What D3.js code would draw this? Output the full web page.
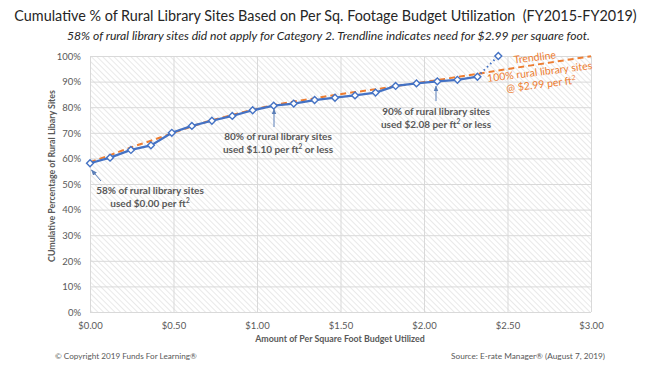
<!DOCTYPE html>
<html><head><meta charset="utf-8">
<script src="https://cdn.jsdelivr.net/npm/d3@7"></script>
<style>
html,body{margin:0;padding:0;background:#fff;}
svg{display:block;font-family:Lato, "Open Sans", sans-serif;}
</style></head>
<body><svg id="chart" width="653" height="374"></svg>
<script>
// ---- data ----
const budgetPerSqFt = [0, 0.12, 0.245, 0.365, 0.49, 0.61, 0.73, 0.852, 0.974, 1.10, 1.22, 1.345, 1.467, 1.587, 1.71, 1.83, 1.955, 2.08, 2.20, 2.32];
const cumulativePct = [58.1, 60.3, 63.3, 65.1, 70.0, 72.7, 74.7, 76.6, 78.8, 80.6, 81.4, 82.8, 83.7, 84.6, 85.7, 88.3, 89.3, 90.1, 90.7, 91.9];
const projectedPoint = [2.445, 100];
const trendX = [0, 0.12, 0.245, 0.365, 0.49, 0.61, 0.73, 0.852, 0.974, 1.10, 1.22, 1.345, 1.467, 1.587, 1.71, 1.83, 1.955, 2.08, 2.20, 2.32, 2.5, 2.75, 3.0];
const trendY = [58.5, 61.3, 64.3, 66.9, 69.8, 72.5, 74.9, 77.0, 79.0, 80.8, 82.2, 83.5, 84.8, 85.9, 87.0, 88.2, 89.4, 90.6, 91.8, 93.0, 94.9, 97.4, 99.9];
const xTicks = [0, 0.5, 1, 1.5, 2, 2.5, 3];
const yTicks = [0, 10, 20, 30, 40, 50, 60, 70, 80, 90, 100];
const annotations = [
  {x: 0, y: 58.1, lines: ["58% of rural library sites", "used $0.00 per ft²"]},
  {x: 1.10, y: 80.6, lines: ["80% of rural library sites", "used $1.10 per ft² or less"]},
  {x: 2.08, y: 90.1, lines: ["90% of rural library sites", "used $2.08 per ft² or less"]}
];

const BLUE = "#4472C4", ORANGE = "#ED7D31", GRAY = "#595959", GRID = "#d9d9d9";
const svg = d3.select("#chart");
const L = 90, R = 591, T = 56, B = 312;
const x = d3.scaleLinear().domain([0, 3]).range([L, R]);
const y = d3.scaleLinear().domain([0, 100]).range([B, T]);

function fit(sel, w) {
  const n = sel.node(); const fs = parseFloat(sel.attr("font-size"));
  const len = n.getComputedTextLength();
  sel.attr("font-size", (fs * w / len).toFixed(2));
}

// hatch pattern
const defs = svg.append("defs");
const pat = defs.append("pattern").attr("id", "hatch").attr("patternUnits", "userSpaceOnUse")
  .attr("width", 4).attr("height", 4).attr("patternTransform", "rotate(-45)");
pat.append("rect").attr("width", 4).attr("height", 4).attr("fill", "#fff");
pat.append("line").attr("x1", 0).attr("y1", 0).attr("x2", 0).attr("y2", 4).attr("stroke", "#e4e4e4").attr("stroke-width", 1.6);
const mk = defs.append("marker").attr("id", "arr").attr("viewBox", "0 0 10 10").attr("refX", 9).attr("refY", 5)
  .attr("markerWidth", 6).attr("markerHeight", 6).attr("orient", "auto-start-reverse");
mk.append("path").attr("d", "M0,1 L10,5 L0,9 z").attr("fill", "#5b7fb8");

svg.append("rect").attr("x", L).attr("y", T).attr("width", R - L).attr("height", B - T).attr("fill", "url(#hatch)");

// grid
svg.append("g").attr("transform", `translate(0,${B})`)
  .call(d3.axisBottom(x).tickValues(xTicks).tickSize(-(B - T)).tickFormat(d => "$" + d.toFixed(2)))
  .call(g => g.select(".domain").remove())
  .call(g => g.selectAll("line").attr("stroke", GRID))
  .call(g => g.selectAll("text").attr("fill", GRAY).attr("font-size", 9.5).attr("dy", "0").attr("y", 17).attr("font-family", "Lato"));
svg.append("g").attr("transform", `translate(${L},0)`)
  .call(d3.axisLeft(y).tickValues(yTicks).tickSize(-(R - L)).tickFormat(d => d + "%"))
  .call(g => g.select(".domain").remove())
  .call(g => g.selectAll("line").attr("stroke", GRID))
  .call(g => g.selectAll("text").attr("fill", GRAY).attr("font-size", 9.5).attr("x", -9).attr("dy", "0.35em").attr("font-family", "Lato"));

// trendline
const trend = trendX.map((v, i) => [v, trendY[i]]);
svg.append("path").datum(trend).attr("fill", "none").attr("stroke", ORANGE).attr("stroke-width", 2)
  .attr("stroke-dasharray", "6,4")
  .attr("d", d3.line().x(d => x(d[0])).y(d => y(d[1])).curve(d3.curveMonotoneX));

// data line
const pts = budgetPerSqFt.map((v, i) => [v, cumulativePct[i]]);
const last = pts[pts.length - 1];
svg.append("path").datum([last, projectedPoint]).attr("fill", "none").attr("stroke", BLUE).attr("stroke-width", 2)
  .attr("stroke-dasharray", "1.5,3").attr("d", d3.line().x(d => x(d[0])).y(d => y(d[1])));
svg.append("path").datum(pts).attr("fill", "none").attr("stroke", BLUE).attr("stroke-width", 2.25)
  .attr("d", d3.line().x(d => x(d[0])).y(d => y(d[1])));
const diamond = d3.symbol().type(d3.symbolDiamond2).size(30);
svg.append("g").selectAll("path").data(pts.concat([projectedPoint])).join("path")
  .attr("transform", d => `translate(${x(d[0])},${y(d[1])})`)
  .attr("d", diamond).attr("fill", "#fff").attr("stroke", BLUE).attr("stroke-width", 1.4);

// annotations
const annPos = [
  {ax1: 101, ay1: 181, ax2: 91.5, ay2: 170, tx: 150, ty: 194},
  {ax1: 274, ay1: 127, ax2: 274, ay2: 109, tx: 278, ty: 140},
  {ax1: 436, ay1: 101, ax2: 436, ay2: 86, tx: 436, ty: 115}
];
annotations.forEach((a, i) => {
  const p = annPos[i];
  svg.append("line").attr("x1", p.ax1).attr("y1", p.ay1).attr("x2", p.ax2).attr("y2", p.ay2)
    .attr("stroke", "#5b7fb8").attr("stroke-width", 1).attr("marker-end", "url(#arr)");
  a.lines.forEach((t, j) => {
    const txt = svg.append("text").attr("x", p.tx).attr("y", p.ty + j * 12.5).attr("text-anchor", "middle")
      .attr("fill", GRAY).attr("font-size", 10).attr("font-weight", "bold");
    if (t.includes("ft²")) {
      const parts = t.split("²");
      txt.append("tspan").text(parts[0]);
      txt.append("tspan").text("2").attr("font-size", 6.5).attr("dy", -4);
      txt.append("tspan").text(parts[1]).attr("dy", 4);
    } else txt.text(t);
  });
});

// trendline labels
const tl = svg.append("g").attr("transform", "translate(540,75.5) rotate(-7)");
tl.append("text").attr("x", -3).attr("y", -15).attr("text-anchor", "middle").attr("fill", ORANGE).attr("font-size", 10.5).text("Trendline");
tl.append("text").attr("x", 0).attr("y", 0).attr("text-anchor", "middle").attr("fill", ORANGE).attr("font-size", 10.5).text("100% rural library sites");
const t3 = tl.append("text").attr("x", 0).attr("y", 12.5).attr("text-anchor", "middle").attr("fill", ORANGE).attr("font-size", 10.5);
t3.append("tspan").text("@ $2.99 per ft");
t3.append("tspan").text("2").attr("font-size", 7).attr("dy", -4);

// titles
const title = svg.append("text").attr("x", 325.5).attr("y", 21).attr("text-anchor", "middle").attr("fill", "#262626")
  .attr("font-size", 16).text("Cumulative % of Rural Library Sites Based on Per Sq. Footage Budget Utilization\u00a0\u00a0(FY2015-FY2019)");
fit(title, 623);
const sub = svg.append("text").attr("x", 328.5).attr("y", 40).attr("text-anchor", "middle").attr("fill", "#262626")
  .attr("font-size", 11).attr("font-style", "italic")
  .text("58% of rural library sites did not apply for Category 2. Trendline indicates need for $2.99 per square foot.");
fit(sub, 523);

const xt = svg.append("text").attr("x", 340).attr("y", 342).attr("text-anchor", "middle").attr("fill", GRAY)
  .attr("font-size", 9.5).attr("font-weight", "bold").text("Amount of Per Square Foot Budget Utilized");
fit(xt, 170);
const yt = svg.append("text").attr("transform", "translate(55,176) rotate(-90)").attr("text-anchor", "middle").attr("fill", GRAY)
  .attr("font-size", 9).attr("font-weight", "bold").text("CUmulative Percentage of Rural Libary Sites");
fit(yt, 172);

const cp = svg.append("text").attr("x", 55).attr("y", 359).attr("fill", GRAY).attr("font-size", 9).text("© Copyright 2019 Funds For Learning®");
fit(cp, 142);
const src = svg.append("text").attr("x", 451).attr("y", 359).attr("fill", GRAY).attr("font-size", 9).text("Source: E-rate Manager® (August 7, 2019)");
fit(src, 154);
</script></body></html>
